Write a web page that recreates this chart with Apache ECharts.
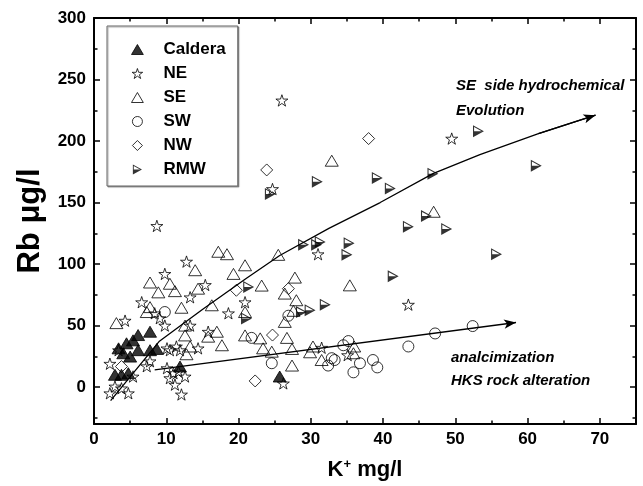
<!DOCTYPE html>
<html><head><meta charset="utf-8">
<script src="https://cdn.jsdelivr.net/npm/echarts@6/dist/echarts.min.js"></script>
<style>html,body{margin:0;padding:0;background:#fff}#c{width:643px;height:486px}</style>
</head><body><div id="c"></div>
<script>
const xTicks = [0,10,20,30,40,50,60,70];
const xMinorTicks = [5,15,25,35,45,55,65];
const yTicks = [0,50,100,150,200,250,300];
const yMinorTicks = [-25,25,75,125,175,225,275];

const caldera = [[6.1,42.3],[7.75,45],[4.5,35.6],[5.4,38],[6.1,30],[7.75,30],[8.7,31],[3.4,31.5],[4.05,27.5],[5.0,24.8],[2.9,10],[3.8,10],[4.75,11.3],[11.9,16.7],[25.7,8.6]];
const ne = [[8.7,131],[12.8,102],[9.8,92],[15.4,83],[24.7,161],[26.0,233],[49.5,202],[31.0,108],[43.5,67],[31.5,32],[35.1,26],[26.2,3],[6.6,69],[4.3,54],[13.3,73],[20.9,69],[18.6,60],[8.4,60],[9.1,56],[9.8,50],[13.3,50],[15.8,45],[2.2,19],[3.4,30],[7.75,21],[7.3,17],[10.1,31.5],[10.5,30],[11.4,33],[11.9,30],[14.4,31.5],[10.1,15.4],[11.0,11.3],[11.7,12.5],[10.5,7.3],[11.2,2],[12.6,8.6],[12.1,-6],[2.2,-5],[2.9,0.5],[3.8,-1],[4.75,-5],[5.4,8.6]];
const se = [[17.2,110],[18.4,108],[14,95],[20.9,99],[19.3,92],[25.5,107.5],[7.75,85],[10.5,84],[23.2,82.5],[8.9,77],[11.2,78],[14.4,80],[12.1,64.5],[16.3,66.5],[7.75,65],[7.3,61],[3.1,52],[12.6,50],[12.6,42],[17,45],[15.8,41],[17.7,34],[13.3,33],[12.8,26.7],[20.9,42],[23,39.6],[23.4,31.5],[24.6,28.8],[26.4,76],[26.4,53],[27.4,17.5],[32.9,184],[47,142.5],[27.8,89],[35.4,82.7],[28,70.6],[26.7,40],[27.4,31],[30.3,33],[29.9,28.3],[31.5,22],[36,33],[35.9,27.5],[20.9,61],[27.6,62]];
const sw = [[9.8,61],[21.8,40],[24.6,19.4],[26.9,58],[47.2,43.6],[52.4,49.6],[43.5,33],[35.2,37.4],[34.5,34],[32.9,23.5],[33.3,22],[32.4,17.5],[36.8,19.4],[35.9,12],[38.6,22],[39.2,16]];
const nw = [[23.9,176.5],[38,202],[19.7,78.7],[24.7,42.3],[22.3,5],[3.8,16.7],[26.9,80]];
const rmw = [[24.4,157],[53.2,208],[61.2,180],[30.9,167],[39.2,170],[41,161.5],[46.9,173.5],[46,139],[43.5,130.4],[48.8,128.5],[29,115.6],[30.8,115.6],[31.3,118],[35.3,117],[35,107.5],[41.4,90],[55.7,108],[21.4,81.4],[21.1,55.8],[28.7,61],[29.9,62.5],[32,67]];

const seCurve = [[2.3,-11],[9,37],[15,63],[21,88],[25.7,107],[32.5,129],[39.6,150],[46.9,173.5],[53.4,189],[61.5,206],[69.4,221]];
const hksLine = [[8.4,14],[58.4,52.5]];

const FONT = '"Liberation Sans", Arial, sans-serif';
const TRI = 'path://M6.5 0 L13 11 L0 11 Z';
const STAR = 'path://M50 0 L61.23 34.55 L97.55 34.55 L68.17 55.9 L79.39 90.45 L50 69.1 L20.61 90.45 L31.83 55.9 L2.45 34.55 L38.77 34.55 Z';
const DIAM = 'path://M5 0 L10 5 L5 10 L0 5 Z';
const HALF = 'path://M0 0 L10 5.5 L0 11 Z M1 1.69 L1 5.5 L7.93 5.5 Z';

const hollow = {color:'rgba(0,0,0,0)', borderColor:'#000', borderWidth:1};
const tickStyle = {color:'#000', width:1.5};

function xAx(pos, ticks, len, main) {
  return {type:'value', min:0, max:75, position:pos,
    axisLine:{show:main, onZero:false, lineStyle:{color:'#000', width:2}},
    axisTick:{show:true, inside:true, length:len, customValues:ticks, lineStyle:tickStyle},
    axisLabel:{show:false}, splitLine:{show:false}};
}
function yAx(pos, ticks, len, main) {
  return {type:'value', min:-30, max:300, position:pos,
    axisLine:{show:main, onZero:false, lineStyle:{color:'#000', width:2}},
    axisTick:{show:true, inside:true, length:len, customValues:ticks, lineStyle:tickStyle},
    axisLabel:{show:false}, splitLine:{show:false}};
}
const xMain = xAx('bottom', xTicks, 6, true);
xMain.axisLabel = {show:true, customValues:xTicks, fontSize:17, fontWeight:'bold', color:'#000', fontFamily:FONT, margin:7};
xMain.name = '{b|K}{s|+}{b| mg/l}';
xMain.nameLocation = 'middle';
xMain.nameGap = 34;
xMain.nameTextStyle = {rich:{
  b:{fontSize:22, fontWeight:'bold', fontFamily:FONT, color:'#000', lineHeight:24},
  s:{fontSize:13, fontWeight:'bold', fontFamily:FONT, color:'#000', verticalAlign:'top', lineHeight:14}}};
const yMain = yAx('left', yTicks, 6, true);
yMain.axisLabel = {show:true, customValues:yTicks, fontSize:17, fontWeight:'bold', color:'#000', fontFamily:FONT, margin:8};
yMain.name = 'Rb μg/l';
yMain.nameLocation = 'middle';
yMain.nameGap = 48;
yMain.nameTextStyle = {fontSize:31, fontWeight:'bold', fontFamily:FONT, color:'#000'};

const chart = echarts.init(document.getElementById('c'), null, {renderer:'canvas'});
chart.setOption({
  animation:false,
  backgroundColor:'#fff',
  grid:{left:94, right:7, top:18, bottom:60, containLabel:false},
  xAxis:[xMain, xAx('bottom', xMinorTicks, 3.5, false), xAx('top', xTicks, 6, true), xAx('top', xMinorTicks, 3.5, false)],
  yAxis:[yMain, yAx('left', yMinorTicks, 3.5, false), yAx('right', yTicks, 6, true), yAx('right', yMinorTicks, 3.5, false)],
  legend:{
    orient:'vertical', left:107, top:26, padding:[15,12,8,24],
    itemWidth:42, itemHeight:10, itemGap:7,
    borderColor:'#666', borderWidth:1, backgroundColor:'#fff',
    shadowColor:'rgba(0,0,0,0.35)', shadowOffsetX:1, shadowOffsetY:1, shadowBlur:1,
    textStyle:{fontSize:17, fontWeight:'bold', fontFamily:FONT, color:'#000'},
    itemStyle:{borderWidth:1},
    data:['Caldera','NE','SE','SW','NW',{name:'RMW', itemStyle:{borderWidth:0}}]
  },
  graphic:[
    {type:'text', left:456, top:78, style:{text:'SE  side hydrochemical', font:'italic bold 15px ' + FONT, fill:'#000'}},
    {type:'text', left:456, top:103, style:{text:'Evolution', font:'italic bold 15px ' + FONT, fill:'#000'}},
    {type:'text', left:451, top:350, style:{text:'analcimization', font:'italic bold 15px ' + FONT, fill:'#000'}},
    {type:'text', left:451, top:373, style:{text:'HKS rock alteration', font:'italic bold 15px ' + FONT, fill:'#000'}}
  ],
  series:[
    {name:'seCurve', type:'line', data:seCurve, symbol:'none', silent:true, z:1, lineStyle:{color:'#000', width:1.3}},
    {name:'arrows', type:'lines', coordinateSystem:'cartesian2d', silent:true, z:1,
      symbol:['none','arrow'], symbolSize:[0,[7,12]],
      lineStyle:{color:'#000', width:1.3, opacity:1},
      data:[{coords:[seCurve[seCurve.length-2], seCurve[seCurve.length-1]]},{coords:hksLine}]},
    {name:'Caldera', type:'scatter', data:caldera, symbol:TRI, symbolSize:13, symbolKeepAspect:true, itemStyle:{color:'#000', borderColor:'#000', borderWidth:1}},
    {name:'NE', type:'scatter', data:ne, symbol:STAR, symbolSize:12, symbolKeepAspect:true, itemStyle:hollow},
    {name:'SE', type:'scatter', data:se, symbol:TRI, symbolSize:13, symbolKeepAspect:true, itemStyle:hollow},
    {name:'SW', type:'scatter', data:sw, symbol:'circle', symbolSize:11, itemStyle:hollow},
    {name:'NW', type:'scatter', data:nw, symbol:DIAM, symbolSize:12, symbolKeepAspect:true, itemStyle:hollow},
    {name:'RMW', type:'scatter', data:rmw, symbol:HALF, symbolSize:12, symbolKeepAspect:true, itemStyle:{color:'#000', borderWidth:0}}
  ]
});
</script></body></html>
